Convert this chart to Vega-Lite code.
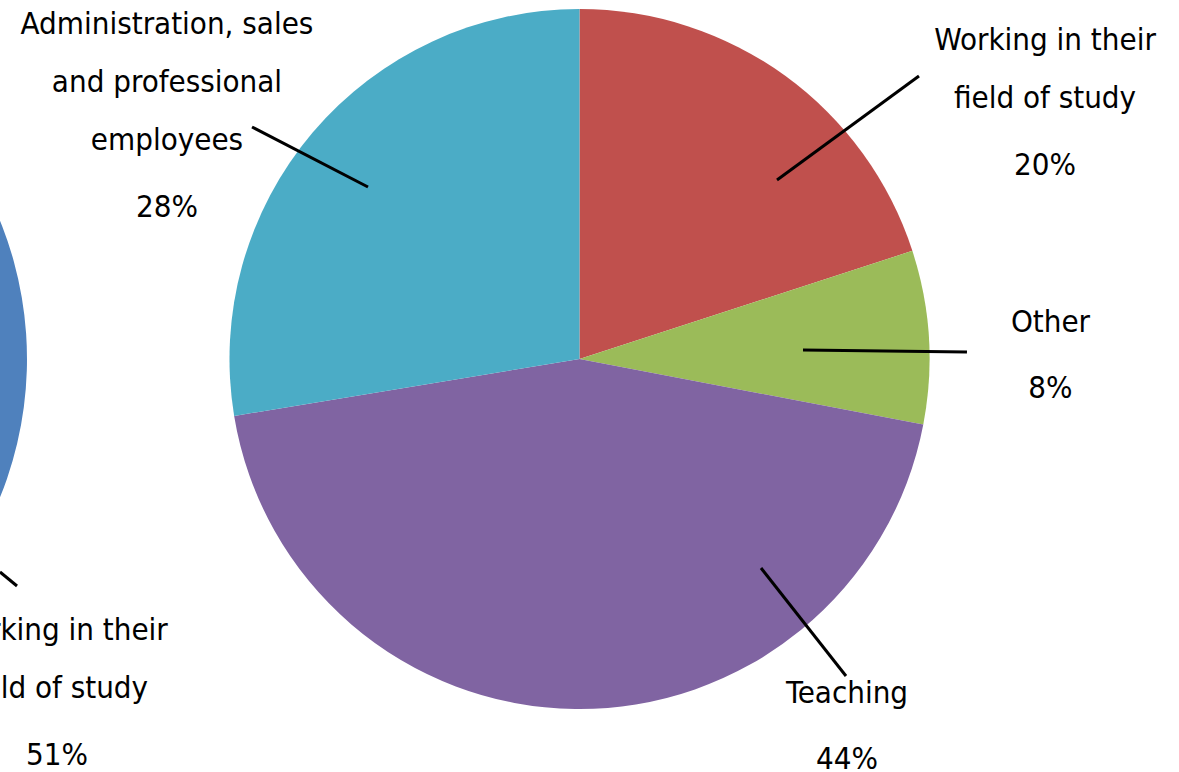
{
  "$schema": "https://vega.github.io/schema/vega-lite/v6.json",
  "width": 1179,
  "height": 772,
  "autosize": "none",
  "padding": 0,
  "background": "white",
  "config": {"view": {"stroke": null}},
  "datasets": {
    "main": [
      {"category": "Working in their field of study", "share": 20, "rank": 1},
      {"category": "Other", "share": 8, "rank": 2},
      {"category": "Teaching", "share": 44.4, "rank": 3},
      {"category": "Administration, sales and professional employees", "share": 27.6, "rank": 4}
    ],
    "left": [
      {"category": "Working in their field of study", "share": 51, "rank": 1}
    ],
    "labels": [
      {"name": ["Administration, sales", "and professional", "employees"], "pct": "28%", "lx": -1.1786, "ly": 0.9286, "py": 0.4057},
      {"name": ["Working in their", "field of study"], "pct": "20%", "lx": 1.33, "ly": 0.8829, "py": 0.5257},
      {"name": ["Other"], "pct": "8%", "lx": 1.3457, "ly": 0.0771, "py": -0.1114},
      {"name": ["Teaching"], "pct": "44%", "lx": 0.7643, "ly": -0.9829, "py": -1.1714},
      {"name": ["Working in their", "field of study"], "pct": "51%", "lx": -1.4929, "ly": -0.8029, "py": -1.16}
    ],
    "leaders": [
      {"x": -0.9357, "y": 0.6629, "x2": -0.6043, "y2": 0.4914},
      {"x": 0.5643, "y": 0.5114, "x2": 0.97, "y2": 0.8086},
      {"x": 0.6386, "y": 0.0257, "x2": 1.1071, "y2": 0.02},
      {"x": 0.5186, "y": -0.5971, "x2": 0.7614, "y2": -0.9057},
      {"x": -1.6557, "y": -0.6086, "x2": -1.6071, "y2": -0.6486}
    ]
  },
  "layer": [
    {
      "data": {"name": "left"},
      "mark": {"type": "arc", "radius": 368},
      "encoding": {
        "x": {"datum": -2.63, "type": "quantitative", "scale": {"domain": [-1.6557, 1.7129], "nice": false, "zero": false}, "axis": null},
        "y": {"datum": 0, "type": "quantitative", "scale": {"domain": [-1.18, 1.0257], "nice": false, "zero": false}, "axis": null},
        "theta": {"field": "share", "type": "quantitative", "stack": true, "scale": {"domain": [0, 100]}},
        "order": {"field": "rank", "type": "quantitative"},
        "color": {"field": "category", "type": "nominal", "scale": {"domain": ["Working in their field of study"], "range": ["#4F81BD"]}, "legend": null}
      }
    },
    {
      "data": {"name": "main"},
      "mark": {"type": "arc", "radius": 350},
      "encoding": {
        "x": {"datum": 0, "type": "quantitative"},
        "y": {"datum": 0, "type": "quantitative"},
        "theta": {"field": "share", "type": "quantitative", "stack": true, "scale": {"domain": [0, 100]}},
        "order": {"field": "rank", "type": "quantitative"},
        "color": {"field": "category", "type": "nominal", "scale": {"domain": ["Working in their field of study", "Other", "Teaching", "Administration, sales and professional employees"], "range": ["#C0504D", "#9BBB59", "#8064A2", "#4BACC6"]}, "legend": null}
      }
    },
    {
      "data": {"name": "leaders"},
      "mark": {"type": "rule", "color": "black", "strokeWidth": 3},
      "encoding": {
        "x": {"field": "x", "type": "quantitative"},
        "y": {"field": "y", "type": "quantitative"},
        "x2": {"field": "x2"},
        "y2": {"field": "y2"}
      }
    },
    {
      "data": {"name": "labels"},
      "mark": {"type": "text", "font": "DejaVu Sans Condensed", "fontSize": 31, "lineHeight": 58, "align": "center", "baseline": "alphabetic", "color": "black"},
      "encoding": {
        "x": {"field": "lx", "type": "quantitative"},
        "y": {"field": "ly", "type": "quantitative"},
        "text": {"field": "name"}
      }
    },
    {
      "data": {"name": "labels"},
      "mark": {"type": "text", "font": "DejaVu Sans Condensed", "fontSize": 31, "align": "center", "baseline": "alphabetic", "color": "black"},
      "encoding": {
        "x": {"field": "lx", "type": "quantitative"},
        "y": {"field": "py", "type": "quantitative"},
        "text": {"field": "pct"}
      }
    }
  ],
  "resolve": {"scale": {"color": "independent", "theta": "independent"}}
}
